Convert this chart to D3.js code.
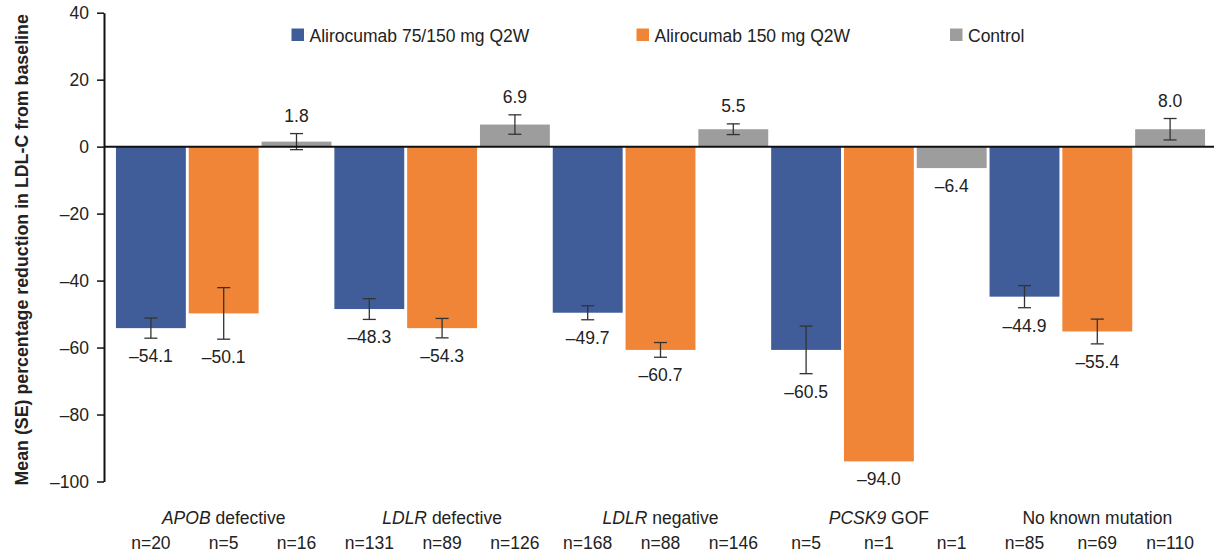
<!DOCTYPE html>
<html>
<head>
<meta charset="utf-8">
<script src="https://cdn.jsdelivr.net/npm/d3@7"></script>
<style>
  body { margin: 0; background: #fff; }
  text { font-family: "Liberation Sans", Arial, sans-serif; fill: #222; }
</style>
</head>
<body>
<script>
const w = 1214
const h = 559

// category labels: italic gene name + plain rest
const geneNames = ['APOB', 'LDLR', 'LDLR', 'PCSK9', '']
const geneRest = [' defective', ' defective', ' negative', ' GOF', 'No known mutation']

const seriesNames = ['Alirocumab 75/150 mg Q2W', 'Alirocumab 150 mg Q2W', 'Control']
const seriesColors = ['#405d99', '#f08537', '#9c9d9c']

// bar heights as drawn (% change), SE half-widths, printed labels, n
const alir75 = [-54.2, -48.5, -49.6, -60.7, -44.8]
const alir150 = [-49.8, -54.2, -60.7, -94.0, -55.2]
const control = [1.5, 6.6, 5.2, -6.4, 5.2]

const alir75Se = [3.0, 3.1, 2.1, 7.1, 3.3]
const alir150Se = [7.7, 2.9, 2.2, null, 3.7]
const controlSe = [2.4, 2.9, 1.6, null, 3.2]

const alir75Labels = ['–54.1', '–48.3', '–49.7', '–60.5', '–44.9']
const alir150Labels = ['–50.1', '–54.3', '–60.7', '–94.0', '–55.4']
const controlLabels = ['1.8', '6.9', '5.5', '–6.4', '8.0']

const alir75N = [20, 131, 168, 5, 85]
const alir150N = [5, 89, 88, 1, 69]
const controlN = [16, 126, 146, 1, 110]

const yTicks = [-100, -80, -60, -40, -20, 0, 20, 40]

const values = [alir75, alir150, control]
const ses = [alir75Se, alir150Se, controlSe]
const labels = [alir75Labels, alir150Labels, controlLabels]
const ns = [alir75N, alir150N, controlN]

const bars = []
geneRest.forEach((g, gi) => {
	seriesNames.forEach((s, si) => {
		bars.push({
			group: gi, series: si,
			value: values[si][gi], se: ses[si][gi],
			label: labels[si][gi], n: ns[si][gi]
		})
	})
})

const svg = d3.select('body')
	.append('svg')
	.attr('width', w)
	.attr('height', h)

const axisX = 104
const fs = '17.5px'

const yScale = d3.scaleLinear()
	.domain([-100, 40])
	.range([481.5, 12.7])

const x0 = d3.scaleBand()
	.domain(d3.range(geneRest.length))
	.range([114.5, 1206.5])

const x1 = d3.scaleBand()
	.domain(d3.range(seriesNames.length))
	.range([0, x0.bandwidth()])
	.paddingInner(0.04)
	.paddingOuter(0.02)

const barX = d => x0(d.group) + x1(d.series)
const barCx = d => barX(d) + x1.bandwidth() / 2

// bars
svg.append('g')
	.selectAll('rect')
	.data(bars)
	.enter()
	.append('rect')
	.attr('x', barX)
	.attr('width', x1.bandwidth())
	.attr('y', d => yScale(Math.max(0, d.value)))
	.attr('height', d => Math.abs(yScale(d.value) - yScale(0)))
	.attr('fill', d => seriesColors[d.series])

// error bars
const errs = bars.filter(d => d.se != null)
const eg = svg.append('g')
	.attr('stroke', '#333')
	.attr('stroke-width', 1.3)
	.attr('fill', 'none')

eg.selectAll('.stem')
	.data(errs)
	.enter()
	.append('line')
	.attr('x1', barCx).attr('x2', barCx)
	.attr('y1', d => yScale(d.value + d.se))
	.attr('y2', d => yScale(d.value - d.se))

eg.selectAll('.capTop')
	.data(errs)
	.enter()
	.append('line')
	.attr('x1', d => barCx(d) - 6.5).attr('x2', d => barCx(d) + 6.5)
	.attr('y1', d => yScale(d.value + d.se))
	.attr('y2', d => yScale(d.value + d.se))

eg.selectAll('.capBot')
	.data(errs)
	.enter()
	.append('line')
	.attr('x1', d => barCx(d) - 6.5).attr('x2', d => barCx(d) + 6.5)
	.attr('y1', d => yScale(d.value - d.se))
	.attr('y2', d => yScale(d.value - d.se))

// value labels
svg.append('g')
	.selectAll('text')
	.data(bars)
	.enter()
	.append('text')
	.attr('x', barCx)
	.attr('y', d => {
		const se = d.se || 0
		if (d.value >= 0) return yScale(d.value + se) - 12
		return yScale(d.value - se) + 24
	})
	.attr('text-anchor', 'middle')
	.attr('font-size', fs)
	.text(d => d.label)

// zero line
svg.append('line')
	.attr('x1', axisX).attr('x2', w)
	.attr('y1', yScale(0)).attr('y2', yScale(0))
	.attr('stroke', '#111')
	.attr('stroke-width', 2)

// y axis
const yAxis = d3.axisLeft(yScale)
	.tickValues(yTicks)
	.tickSize(7)
	.tickSizeOuter(0)
	.tickPadding(8)
	.tickFormat(d => String(d).replace('-', '–'))

const ya = svg.append('g')
	.attr('transform', `translate(${axisX},0)`)
	.call(yAxis)
ya.select('.domain').attr('stroke', '#111').attr('stroke-width', 2)
ya.selectAll('.tick line').attr('stroke', '#111').attr('stroke-width', 1.5)
ya.selectAll('.tick text')
	.attr('font-size', fs)
	.attr('font-family', '"Liberation Sans", Arial, sans-serif')
	.attr('fill', '#222')

// y title
svg.append('text')
	.attr('transform', `translate(28,${(12.7 + 487) / 2}) rotate(-90)`)
	.attr('text-anchor', 'middle')
	.attr('font-size', '17.8px')
	.attr('font-weight', 'bold')
	.text('Mean (SE) percentage reduction in LDL-C from baseline')

// category labels
const cat = svg.append('g')
	.selectAll('text')
	.data(geneRest.map((r, i) => i))
	.enter()
	.append('text')
	.attr('x', i => x0(i) + x0.bandwidth() / 2)
	.attr('y', 524)
	.attr('text-anchor', 'middle')
	.attr('font-size', fs)
cat.append('tspan')
	.attr('font-style', 'italic')
	.text(i => geneNames[i])
cat.append('tspan')
	.text(i => geneRest[i])

// n labels
svg.append('g')
	.selectAll('text')
	.data(bars)
	.enter()
	.append('text')
	.attr('x', barCx)
	.attr('y', 549)
	.attr('text-anchor', 'middle')
	.attr('font-size', fs)
	.text(d => 'n=' + d.n)

// legend
const legendX = [291.5, 636.5, 950]
const lg = svg.append('g')
	.selectAll('g')
	.data(seriesNames)
	.enter()
	.append('g')
	.attr('transform', (d, i) => `translate(${legendX[i]},0)`)
lg.append('rect')
	.attr('x', 0).attr('y', 28.5)
	.attr('width', 12.5).attr('height', 12.5)
	.attr('fill', (d, i) => seriesColors[i])
lg.append('text')
	.attr('x', 18)
	.attr('y', 41.5)
	.attr('font-size', fs)
	.text(d => d)
</script>
</body>
</html>
